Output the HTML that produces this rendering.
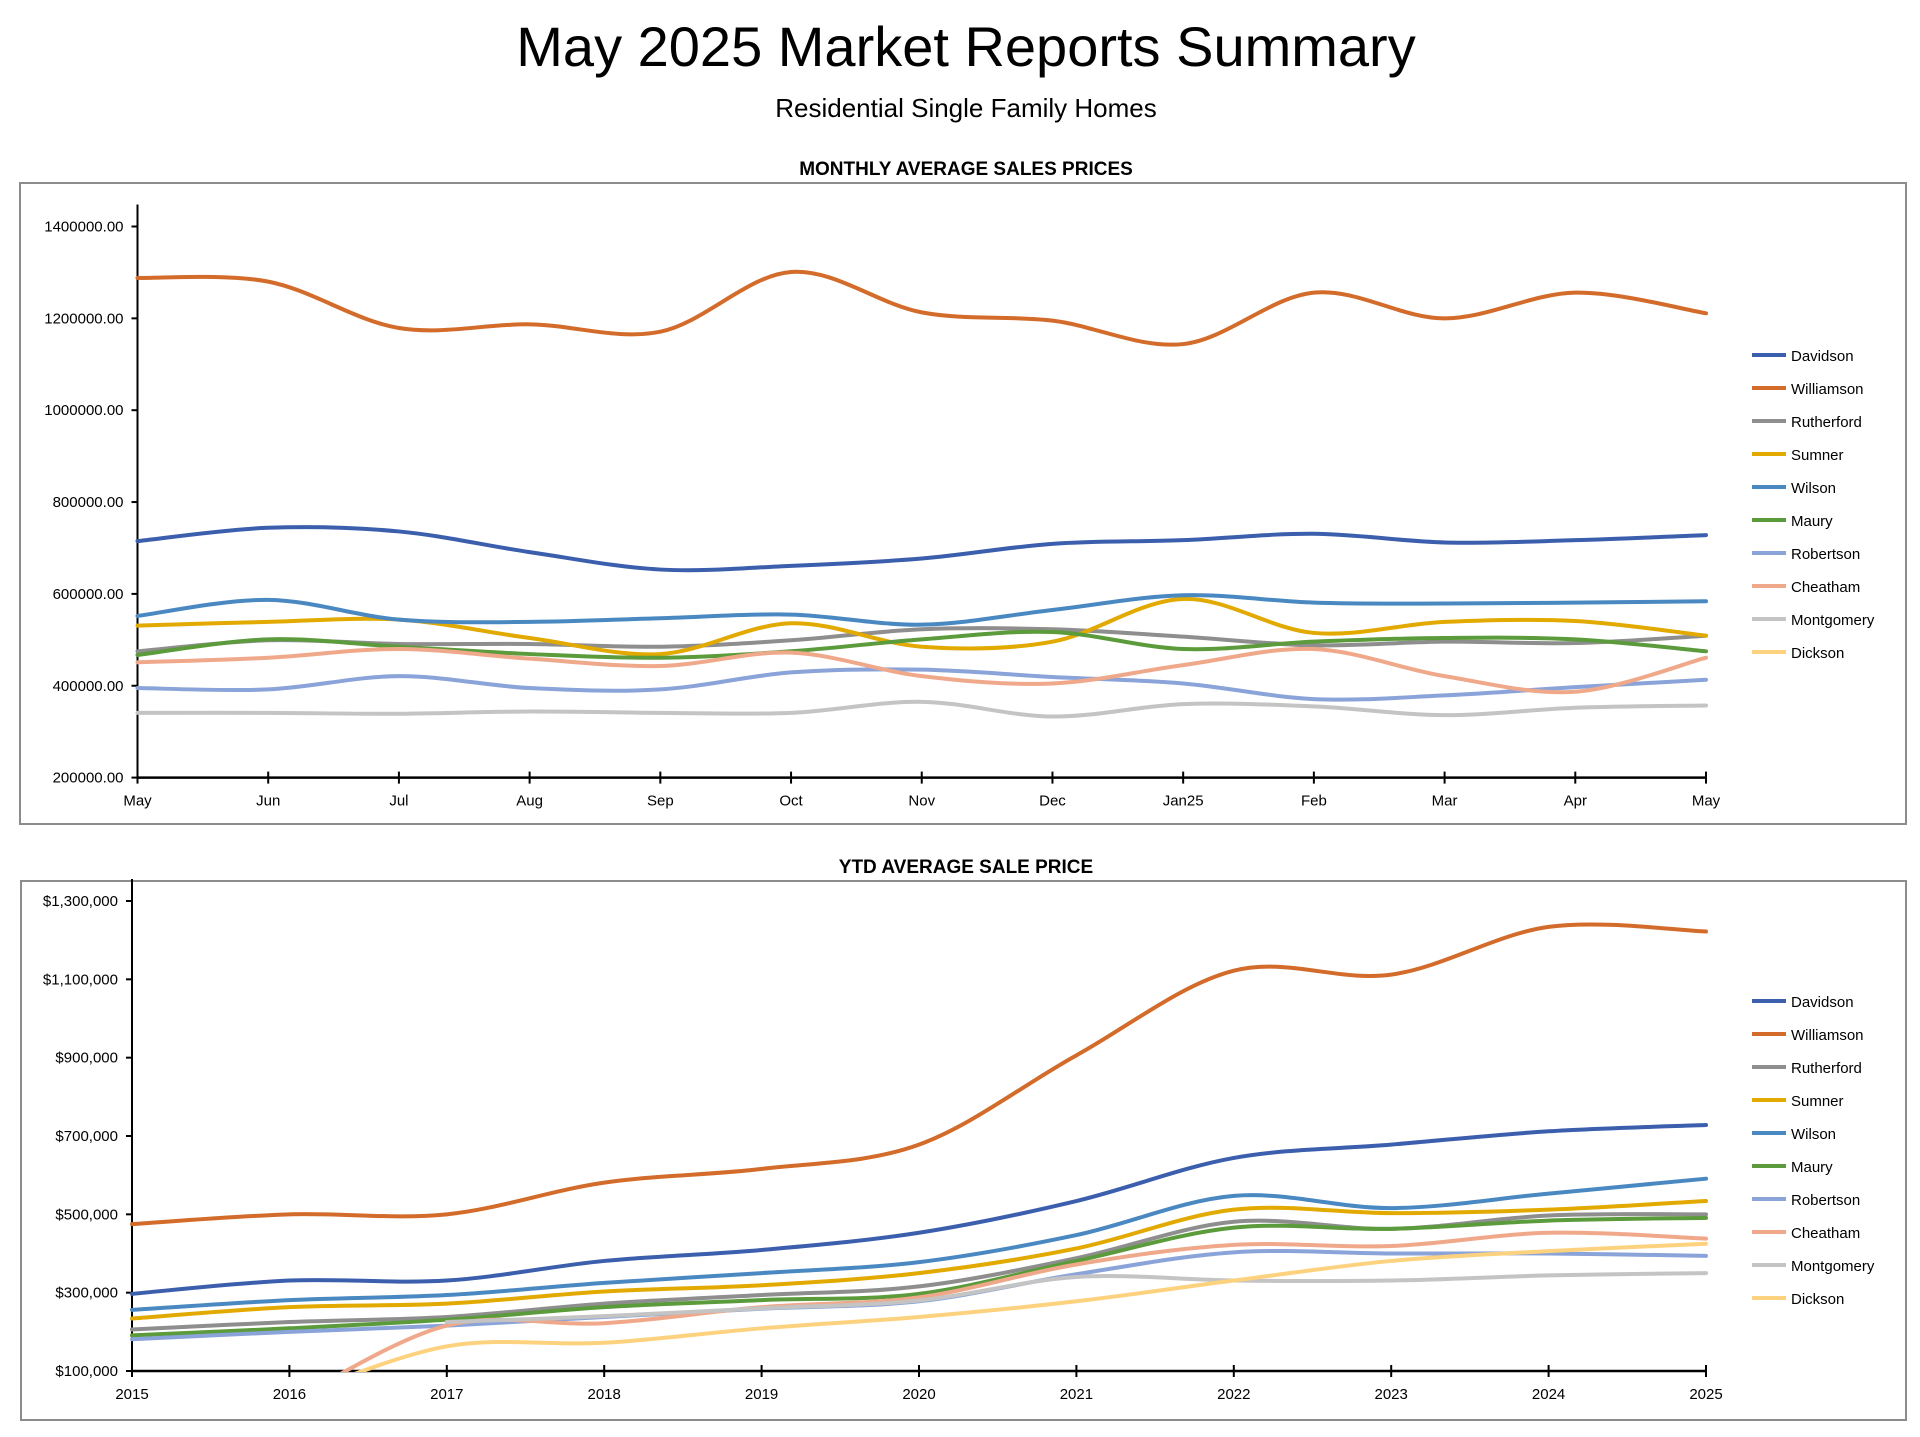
<!DOCTYPE html>
<html><head><meta charset="utf-8"><style>
body{margin:0;background:#fff;width:1920px;height:1432px;overflow:hidden;font-family:"Liberation Sans",sans-serif;}
svg text{font-family:"Liberation Sans",sans-serif;}
</style></head><body>
<svg id="s" width="1920" height="1432">
<text x="966" y="66" font-size="56" text-anchor="middle">May 2025 Market Reports Summary</text>
<text x="966" y="117" font-size="26" text-anchor="middle">Residential Single Family Homes</text>
<text x="966" y="175" font-size="19" font-weight="bold" text-anchor="middle">MONTHLY AVERAGE SALES PRICES</text>
<text x="966" y="873" font-size="19" font-weight="bold" text-anchor="middle">YTD AVERAGE SALE PRICE</text>
<rect x="20" y="183" width="1886" height="641" fill="none" stroke="#8c8c8c" stroke-width="2"/>
<rect x="21" y="881" width="1885" height="539" fill="none" stroke="#8c8c8c" stroke-width="2"/>
<defs><clipPath id="c2"><rect x="130" y="880" width="1600" height="492"/></clipPath></defs>
</svg>
<script>
const names=["Davidson","Williamson","Rutherford","Sumner","Wilson","Maury","Robertson","Cheatham","Montgomery","Dickson"];
const colors=["#3b5ead","#d36b2a","#8e8e8e","#e2a900","#4a88c2","#5b9b3b","#8aa3d8","#f0a88a","#c4c4c4","#fdd27e"];
const months=["May","Jun","Jul","Aug","Sep","Oct","Nov","Dec","Jan25","Feb","Mar","Apr","May"];
const mTicks=[200000,400000,600000,800000,1000000,1200000,1400000];
const mDavidson=[715,744,736,691,653,661,677,709,717,731,712,717,728];
const mWilliamson=[1288,1280,1179,1187,1171,1301,1213,1195,1144,1256,1200,1256,1211];
const mRutherford=[475,499,491,491,485,499,523,523,507,488,496,493,509];
const mSumner=[531,539,544,504,469,536,485,496,589,515,539,541,509];
const mWilson=[552,587,544,539,547,555,533,565,597,581,579,581,584];
const mMaury=[467,501,485,469,461,475,501,517,480,496,504,501,475];
const mRobertson=[395,392,421,395,392,429,435,419,405,371,379,397,413];
const mCheatham=[451,461,480,459,443,472,421,405,445,480,421,387,461];
const mMontgomery=[341,341,339,344,341,341,365,333,360,355,336,352,357];
const years=["2015","2016","2017","2018","2019","2020","2021","2022","2023","2024","2025"];
const yTicks=[100000,300000,500000,700000,900000,1100000,1300000];
const yDavidson=[297,331,331,381,409,453,534,644,678,712,728];
const yWilliamson=[475,500,500,581,616,678,906,1122,1112,1234,1222];
const yRutherford=[206,225,238,272,294,316,388,481,463,497,500];
const ySumner=[234,263,272,303,319,350,413,512,503,512,534];
const yWilson=[256,281,294,325,350,378,447,547,516,553,591];
const yMaury=[191,209,231,263,281,297,381,466,463,484,491];
const yRobertson=[181,200,216,238,259,278,347,403,400,400,394];
const yCheatham=[null,20,216,222,263,288,372,422,419,453,438];
const yMontgomery=[null,null,225,240,260,280,340,331,331,344,350];
const yDickson=[null,30,163,172,209,238,278,331,381,406,425];
const monthly=[mDavidson,mWilliamson,mRutherford,mSumner,mWilson,mMaury,mRobertson,mCheatham,mMontgomery];
const ytd=[yDavidson,yWilliamson,yRutherford,ySumner,yWilson,yMaury,yRobertson,yCheatham,yMontgomery,yDickson];
const S=document.getElementById('s');const NS="http://www.w3.org/2000/svg";
function mk(t,a,p){const e=document.createElementNS(NS,t);for(const k in a)e.setAttribute(k,a[k]);(p||S).appendChild(e);return e;}
function smooth(pts){let d="M"+pts[0][0]+","+pts[0][1];for(let i=0;i<pts.length-1;i++){const p0=pts[i-1]||pts[i],p1=pts[i],p2=pts[i+1],p3=pts[i+2]||p2;
d+=" C"+(p1[0]+(p2[0]-p0[0])/6)+","+(p1[1]+(p2[1]-p0[1])/6)+" "+(p2[0]-(p3[0]-p1[0])/6)+","+(p2[1]-(p3[1]-p1[1])/6)+" "+p2[0]+","+p2[1];}return d;}
function chart(cfg){
 const {x0,x1,yTop,yBot,vMin,vMax,cats,ticks,fmt,series,legY,clip}=cfg;
 const xs=i=>x0+(x1-x0)*i/(cats.length-1);const ys=v=>yBot-(v-vMin)/(vMax-vMin)*(yBot-yTop);
 let e=mk('line',{x1:x0,y1:yTop-22,x2:x0,y2:yBot,stroke:"#000","stroke-width":2});
 
 e=mk('line',{x1:x0,y1:yBot,x2:x1,y2:yBot,stroke:"#000","stroke-width":2.5});
 
 ticks.forEach(t=>{const y=ys(t);mk('line',{x1:x0-6,y1:y,x2:x0+1,y2:y,stroke:"#000","stroke-width":2});
  e=mk('text',{x:x0-14,y:y+5,"font-size":15,"text-anchor":"end"});e.textContent=fmt(t);
  });
 cats.forEach((c,i)=>{const x=xs(i);mk('line',{x1:x,y1:yBot-6,x2:x,y2:yBot+6,stroke:"#000","stroke-width":2});
  e=mk('text',{x:x,y:yBot+28,"font-size":15,"text-anchor":"middle"});e.textContent=c;
  });
 const g=mk('g',clip?{"clip-path":"url(#c2)"}:{});
 series.forEach((arr,si)=>{const pts=[];arr.forEach((v,i)=>{if(v!==null)pts.push([xs(i),ys(v*1000)]);});
  e=mk('path',{d:smooth(pts),fill:"none",stroke:colors[si],"stroke-width":4,"stroke-linecap":"round"},g);
  });
 names.forEach((n,i)=>{const y=legY+i*33;
  e=mk('line',{x1:1752,y1:y,x2:1786,y2:y,stroke:colors[i],"stroke-width":4});
  
  e=mk('text',{x:1791,y:y+6,"font-size":15});e.textContent=n;
  });
}
chart({x0:137.5,x1:1706,yTop:226.5,yBot:777.6,vMin:200000,vMax:1400000,cats:months,ticks:mTicks,fmt:t=>t.toFixed(2),series:monthly,legY:355});
chart({x0:132,x1:1706,yTop:901,yBot:1371,vMin:100000,vMax:1300000,cats:years,ticks:yTicks,fmt:t=>"$"+t.toLocaleString('en-US'),series:ytd,legY:1001,clip:true});
</script>
</body></html>
